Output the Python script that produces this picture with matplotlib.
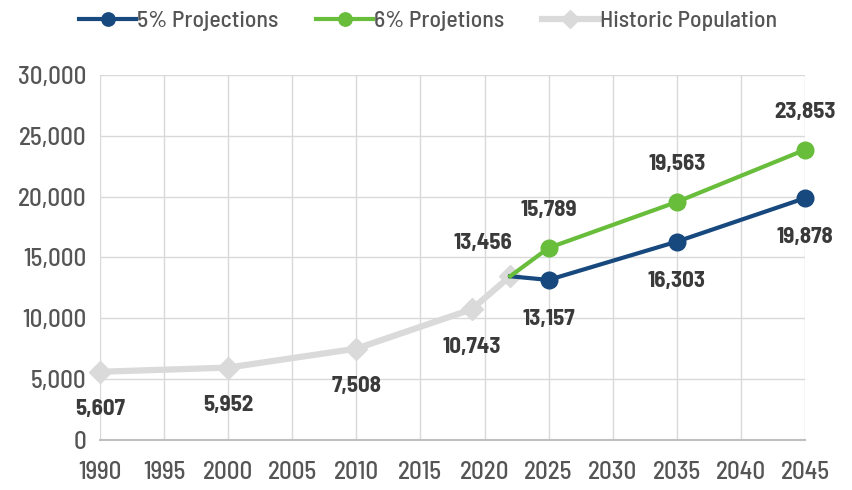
import matplotlib.pyplot as plt
from matplotlib.ticker import FuncFormatter

# data
hist_years = [1990, 2000, 2010, 2019, 2022]
hist_pop = [5607, 5952, 7508, 10743, 13456]

proj_years = [2022, 2025, 2035, 2045]
proj5 = [13456, 13157, 16303, 19878]
proj6 = [13456, 15789, 19563, 23853]

x_ticks = list(range(1990, 2046, 5))
y_ticks = list(range(0, 30001, 5000))

BLUE = "#17497f"
GREEN = "#68bd3b"
GREY = "#dadada"
TXT = "#3a3a3a"
TICK = "#555555"
FONT = ["Barlow Semi Condensed", "Barlow Condensed", "DejaVu Sans"]

plt.rcParams["font.family"] = FONT

fig = plt.figure(figsize=(8.53, 4.90), dpi=100)
ax = fig.add_axes([0.1172, 0.102, 0.8265, 0.745])

ax.plot(proj_years, proj5, color=BLUE, lw=3, marker="o", ms=12,
        markevery=[1, 2, 3], label="5% Projections", zorder=4, clip_on=False)
ax.plot(proj_years, proj6, color=GREEN, lw=3, marker="o", ms=12,
        markevery=[1, 2, 3], label="6% Projetions", zorder=4, clip_on=False)
ax.plot(hist_years, hist_pop, color=GREY, lw=4.5, marker="D", ms=11,
        label="Historic Population", zorder=3, clip_on=False)

label_kw = dict(textcoords="offset points", ha="center", va="center",
                fontsize=16.5, fontweight="bold", color=TXT, zorder=6)

for x, y in zip(hist_years, hist_pop):
    if x == 2022:
        off = (-20, 24)
    else:
        off = (0, -27)
    ax.annotate(f"{y:,}", (x, y), xytext=off, **label_kw)

for x, y in zip(proj_years[1:], proj6[1:]):
    ax.annotate(f"{y:,}", (x, y), xytext=(0, 27), **label_kw)
for x, y in zip(proj_years[1:], proj5[1:]):
    ax.annotate(f"{y:,}", (x, y), xytext=(0, -28), **label_kw)

ax.set_xlim(1990, 2045)
ax.set_ylim(0, 30000)
ax.set_xticks(x_ticks)
ax.set_yticks(y_ticks)
ax.yaxis.set_major_formatter(FuncFormatter(lambda v, p: f"{int(v):,}"))
ax.tick_params(length=0, labelsize=18, labelcolor=TICK)
ax.tick_params(axis="x", pad=15)
ax.tick_params(axis="y", pad=10)
for lab in ax.get_xticklabels() + ax.get_yticklabels():
    lab.set_fontweight("medium")

ax.grid(True, color="#d9d9d9", lw=1)
ax.set_axisbelow(True)
for side in ["top", "right", "left"]:
    ax.spines[side].set_visible(False)
ax.spines["bottom"].set_color("#bfbfbf")
ax.spines["bottom"].set_linewidth(1.5)

fig.legend(loc="upper center", bbox_to_anchor=(0.502, 1.022), ncol=3,
           frameon=False, prop={"size": 17, "weight": "medium"},
           labelcolor=TICK, handlelength=2.4, columnspacing=1.6,
           handletextpad=0.05, markerscale=0.8)

fig.savefig("out.png", dpi=100)
